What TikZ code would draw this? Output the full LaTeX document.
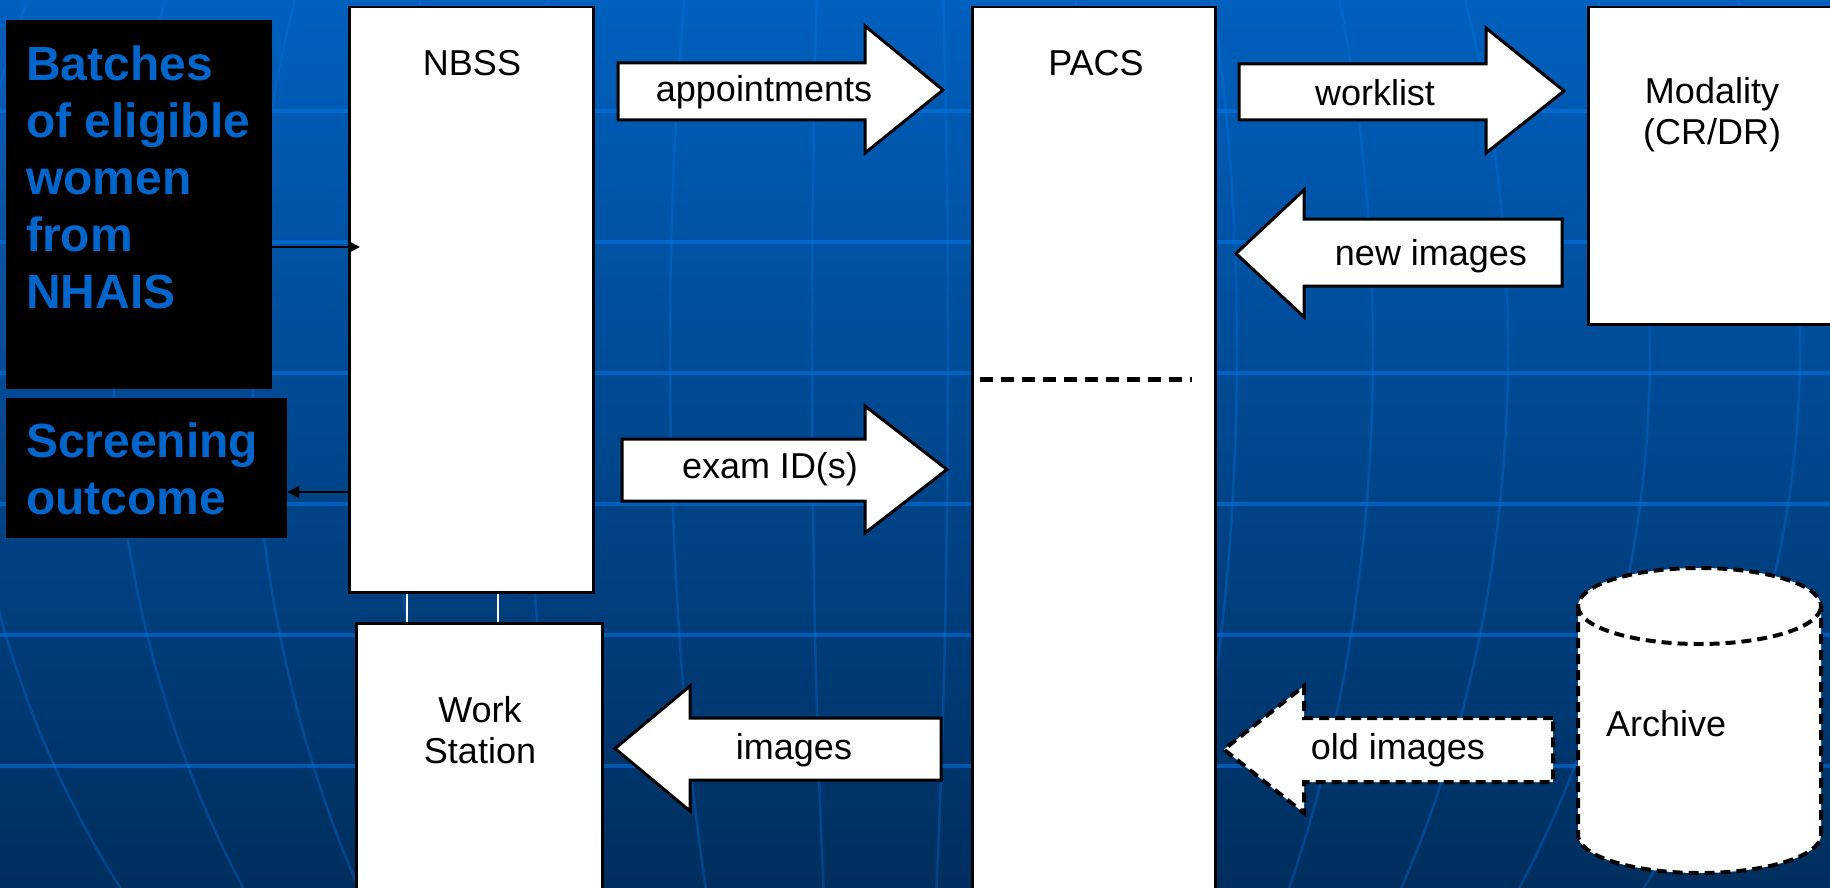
\documentclass[tikz,border=0pt]{standalone}
\usepackage{fontspec}
\setmainfont{Liberation Sans}
\usetikzlibrary{arrows.meta}
\definecolor{bgtop}{RGB}{0,96,190}
\definecolor{bgbot}{RGB}{0,46,94}
\definecolor{gridc}{RGB}{0,122,240}
\definecolor{hltext}{RGB}{0,102,204}
\begin{document}
\begin{tikzpicture}[x=1pt,y=-1pt,
  whitebox/.style={draw=black, line width=2.5pt, fill=white, inner sep=0pt},
  blackbox/.style={fill=black, inner sep=0pt},
  lbl/.style={font=\fontsize{36}{41}\selectfont, text=black, inner sep=0pt, align=center},
  hl/.style={font=\fontsize{48}{57}\selectfont\bfseries, text=hltext, inner sep=0pt, align=left},
  blockarrow/.style={draw=black, fill=white, line width=3pt, line join=miter},
  dashedarrow/.style={blockarrow, dash pattern=on 10pt off 6pt, line width=4pt},
  conn/.style={draw=black, line width=2pt, -{Triangle[length=12pt,width=12pt]}},
  tie/.style={draw=white, line width=2pt},
  gridline/.style={draw=gridc, opacity=0.5, line width=4pt},
  meridian/.style={draw=gridc, opacity=0.3, line width=2.5pt}
]
\useasboundingbox (0,0) rectangle (1830,888);
\begin{scope}
\clip (0,0) rectangle (1830,888);
\shade[top color=bgtop, bottom color=bgbot] (0,0) rectangle (1830,888);
\foreach \yy in {111,242,373,504,635,766}
  \draw[gridline] (0,\yy) -- (1830,\yy);
\foreach \k in {-915,-767,-628,-493,-357,-210,-68,68,210,357,493,628,770,920}
  \draw[meridian] plot[domain=0:888, samples=40, variable=\t] ({880+\k*sqrt(1-((\t-350)/965)^2)}, \t);

% left black boxes
\node[blackbox, minimum width=266pt, minimum height=369pt, anchor=north west] (batches) at (6,20) {};
\node[hl, anchor=north west] (batchestxt) at (26,46) {Batches\\of eligible\\women\\from\\NHAIS};
\node[blackbox, minimum width=281pt, minimum height=140pt, anchor=north west] (screen) at (6,398) {};
\node[hl, anchor=north west] (screentxt) at (26,423) {Screening\\outcome};

% white boxes
\node[whitebox, minimum width=244pt, minimum height=585pt, anchor=north west] (nbss) at (348,6) {};
\node[lbl] (nbsstxt) at (472,63) {NBSS};
\node[whitebox, minimum width=246pt, minimum height=290pt, anchor=north west] (ws) at (355,622) {};
\node[lbl] (wstxt) at (480,730) {Work\\Station};
\node[whitebox, minimum width=243pt, minimum height=900pt, anchor=north west] (pacs) at (971,6) {};
\node[lbl] (pacstxt) at (1096,63) {PACS};
\node[whitebox, minimum width=260pt, minimum height=317pt, anchor=north west] (mod) at (1587,6) {};
\node[lbl] (modtxt) at (1712,115) {Modality\\(CR/DR)};

% separator in PACS
\coordinate (sepa) at (980,379);
\coordinate (sepb) at (1192,379);
\draw[line width=5pt, dash pattern=on 13pt off 8pt] (sepa) -- (sepb);

% ties between NBSS and Work Station
\coordinate (t1) at (407,0);
\coordinate (t2) at (498,0);
\draw[tie] (nbss.south -| t1) -- (ws.north -| t1);
\draw[tie] (nbss.south -| t2) -- (ws.north -| t2);

% thin connectors
\coordinate (c1) at (0,247);
\coordinate (c2) at (0,492);
\draw[conn] (batches.east |- c1) -- ([xshift=12pt]nbss.west |- c1);
\draw[conn] (nbss.west |- c2) -- (screen.east |- c2);

% block arrows
\draw[blockarrow] (618,63) -- (865,63) -- (865,26) -- (943,90) -- (865,153) -- (865,120) -- (618,120) -- cycle;
\node[lbl] (apptxt) at (764,92) {appointments};
\draw[blockarrow] (622,439) -- (865,439) -- (865,406) -- (947,469.5) -- (865,533) -- (865,501) -- (622,501) -- cycle;
\node[lbl] (examtxt) at (770,469) {exam ID(s)};
\draw[blockarrow] (1239,64) -- (1486,64) -- (1486,28) -- (1564,91) -- (1486,153) -- (1486,120) -- (1239,120) -- cycle;
\node[lbl] (worktxt) at (1375,93) {worklist};
\draw[blockarrow] (1562,219) -- (1304,219) -- (1304,190) -- (1236,253.5) -- (1304,317) -- (1304,286) -- (1562,286) -- cycle;
\node[lbl] (newtxt) at (1431,256) {new images};
\draw[blockarrow] (941,718) -- (690,718) -- (690,686) -- (615,748.5) -- (690,811) -- (690,780) -- (941,780) -- cycle;
\node[lbl] (imgtxt) at (794,750) {images};
\draw[dashedarrow] (1553,718) -- (1304,718) -- (1304,686) -- (1224,749.5) -- (1304,813) -- (1304,782) -- (1553,782) -- cycle;
\node[lbl] (oldtxt) at (1398,750) {old images};

% archive cylinder
\draw[dashedarrow]
  (1578,606) -- (1578,835) arc[start angle=180, end angle=360, x radius=121.5pt, y radius=38pt]
  -- (1821,606) arc[start angle=0, end angle=180, x radius=121.5pt, y radius=38pt] -- cycle;
\draw[line width=4pt, dash pattern=on 10pt off 6pt]
  (1578,606) arc[start angle=180, end angle=360, x radius=121.5pt, y radius=38pt];
\node[lbl] (archtxt) at (1666,724) {Archive};
\end{scope}
\end{tikzpicture}
\end{document}
